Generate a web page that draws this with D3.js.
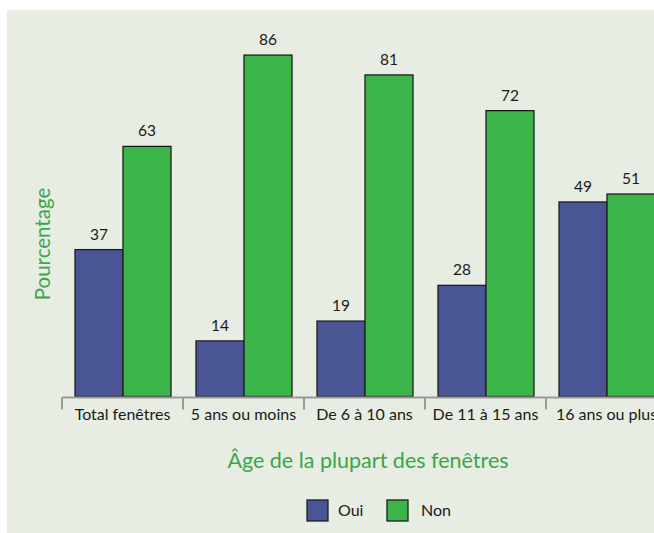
<!DOCTYPE html>
<html>
<head>
<meta charset="utf-8">
<script src="https://cdn.jsdelivr.net/npm/d3@7"></script>
<style>
  html, body { margin: 0; padding: 0; background: #ffffff; }
  svg { display: block; }
  text { font-family: Lato, "Open Sans", "Noto Sans", sans-serif; }
</style>
</head>
<body>
<svg id="chart" width="654" height="533"></svg>
<script>
// Data
const categories = ["Total fenêtres", "5 ans ou moins", "De 6 à 10 ans", "De 11 à 15 ans", "16 ans ou plus"];
const seriesNames = ["Oui", "Non"];
const ouiValues = [37, 14, 19, 28, 49];
const nonValues = [63, 86, 81, 72, 51];
const seriesColors = ["#4a5595", "#3bb44a"];

const svg = d3.select("#chart");
const W = 654, H = 533;

// Panel background
svg.append("rect")
  .attr("x", 7).attr("y", 10)
  .attr("width", W - 7).attr("height", H - 10)
  .attr("fill", "#e7ede3");

const x0 = d3.scaleBand().domain(categories).range([62, 62 + 121 * categories.length]).paddingInner(0).paddingOuter(0);
const x1 = d3.scaleBand().domain(seriesNames).range([13, 121 - 12]).padding(0);
const y = d3.scaleLinear().domain([0, 100]).range([396.5, -0.5]);

const rows = categories.map((c, i) => ({ cat: c, vals: [ouiValues[i], nonValues[i]] }));

const g = svg.append("g");

// Bars
const groups = g.selectAll("g.cat").data(rows).enter().append("g")
  .attr("class", "cat")
  .attr("transform", d => `translate(${x0(d.cat)},0)`);

groups.selectAll("rect").data(d => d.vals.map((v, k) => ({ s: seriesNames[k], v, k }))).enter()
  .append("rect")
  .attr("x", d => x1(d.s))
  .attr("y", d => y(d.v))
  .attr("width", x1.bandwidth())
  .attr("height", d => y(0) - y(d.v))
  .attr("fill", d => seriesColors[d.k])
  .attr("stroke", "#1e1e1e")
  .attr("stroke-width", 1.3);

groups.selectAll("text.val").data(d => d.vals.map((v, k) => ({ s: seriesNames[k], v, k }))).enter()
  .append("text")
  .attr("class", "val")
  .attr("x", d => x1(d.s) + x1.bandwidth() / 2)
  .attr("y", d => y(d.v) - 10)
  .attr("text-anchor", "middle")
  .attr("font-size", 15.5)
  .attr("fill", "#1a1a1a")
  .text(d => d.v);

// Category axis
const axisY = 397.5;
g.append("line")
  .attr("x1", 62).attr("x2", W).attr("y1", axisY).attr("y2", axisY)
  .attr("stroke", "#9a9a9a").attr("stroke-width", 2);

g.selectAll("line.tick").data(categories).enter().append("line")
  .attr("class", "tick")
  .attr("x1", d => x0(d)).attr("x2", d => x0(d))
  .attr("y1", axisY).attr("y2", axisY + 12)
  .attr("stroke", "#9a9a9a").attr("stroke-width", 2);

g.selectAll("text.cat").data(categories).enter().append("text")
  .attr("class", "cat")
  .attr("x", d => x0(d) + x0.bandwidth() / 2)
  .attr("y", 420)
  .attr("text-anchor", "middle")
  .attr("font-size", 16)
  .attr("fill", "#1a1a1a")
  .text(d => d);

// Axis titles
svg.append("text")
  .attr("x", 368).attr("y", 468)
  .attr("text-anchor", "middle")
  .attr("font-size", 21.5)
  .attr("fill", "#3aa649")
  .text("Âge de la plupart des fenêtres");

svg.append("text")
  .attr("transform", "translate(50,244) rotate(-90)")
  .attr("text-anchor", "middle")
  .attr("font-size", 20.5)
  .attr("fill", "#3aa649")
  .text("Pourcentage");

// Legend
const legend = svg.append("g");
const legendX = [307, 387];
seriesNames.forEach((s, k) => {
  legend.append("rect")
    .attr("x", legendX[k]).attr("y", 500)
    .attr("width", 21).attr("height", 21)
    .attr("fill", seriesColors[k])
    .attr("stroke", "#1e1e1e").attr("stroke-width", 1.3);
  legend.append("text")
    .attr("x", legendX[k] + (k === 0 ? 31 : 34)).attr("y", 516)
    .attr("font-size", 16)
    .attr("fill", "#1a1a1a")
    .text(s);
});
</script>
</body>
</html>
